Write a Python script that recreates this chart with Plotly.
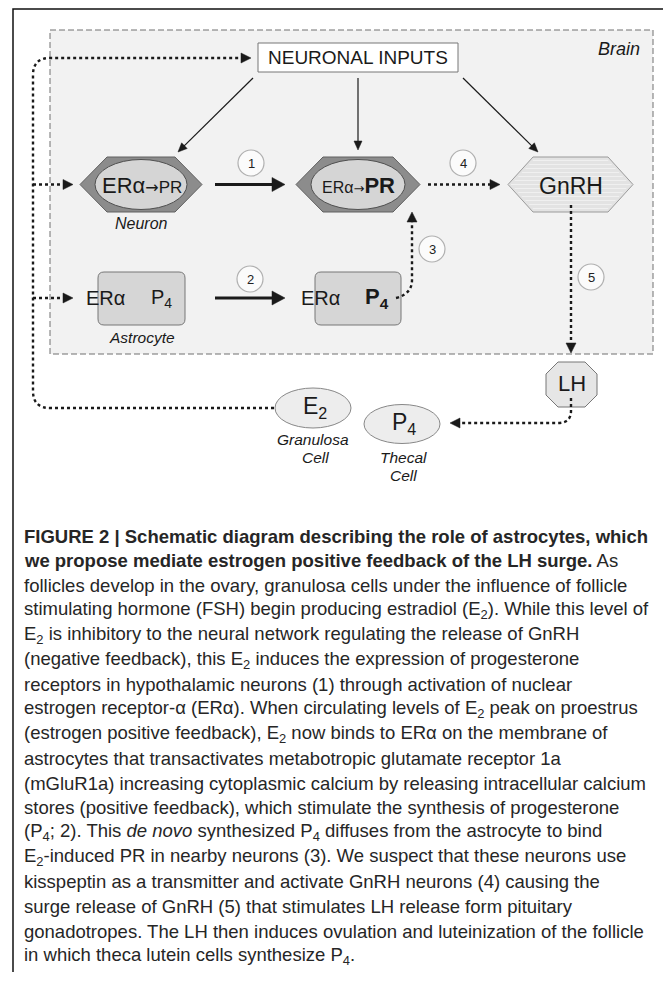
import math
import plotly.graph_objects as go

# ---------------- content (text / labels) ----------------
brain_label = "Brain"
inputs_label = "NEURONAL INPUTS"
neuron_label = "Neuron"
astro_label = "Astrocyte"
step_numbers = ["1", "2", "3", "4", "5"]
gnrh_label = "GnRH"
lh_label = "LH"
e2_label = "E<sub>2</sub>"
p4_label = "P<sub>4</sub>"
e2_cell = ["Granulosa", "Cell"]
p4_cell = ["Thecal", "Cell"]
neuron1_label = ('<span style="font-size:22px">ERα</span>'
                 '<span style="font-size:16px;font-family:DejaVu Sans">→</span>'
                 '<span style="font-size:17px">PR</span>')
neuron2_label = ('<span style="font-size:16px">ERα</span>'
                 '<span style="font-size:13px;font-family:DejaVu Sans">→</span>'
                 '<b style="font-size:22px">PR</b>')
astro1_labels = ["ERα", "P<sub>4</sub>"]
astro2_labels = ["ERα", "<b>P<sub>4</sub></b>"]

caption_lines = [
    "<b>FIGURE 2 | Schematic diagram describing the role of astrocytes, which</b>",
    "<b>we propose mediate estrogen positive feedback of the LH surge.</b> As",
    "follicles develop in the ovary, granulosa cells under the influence of follicle",
    "stimulating hormone (FSH) begin producing estradiol (E<sub>2</sub>). While this level of",
    "E<sub>2</sub> is inhibitory to the neural network regulating the release of GnRH",
    "(negative feedback), this E<sub>2</sub> induces the expression of progesterone",
    "receptors in hypothalamic neurons (1) through activation of nuclear",
    "estrogen receptor-α (ERα). When circulating levels of E<sub>2</sub> peak on proestrus",
    "(estrogen positive feedback), E<sub>2</sub> now binds to ERα on the membrane of",
    "astrocytes that transactivates metabotropic glutamate receptor 1a",
    "(mGluR1a) increasing cytoplasmic calcium by releasing intracellular calcium",
    "stores (positive feedback), which stimulate the synthesis of progesterone",
    "(P<sub>4</sub>; 2). This <i>de novo</i> synthesized P<sub>4</sub> diffuses from the astrocyte to bind",
    "E<sub>2</sub>-induced PR in nearby neurons (3). We suspect that these neurons use",
    "kisspeptin as a transmitter and activate GnRH neurons (4) causing the",
    "surge release of GnRH (5) that stimulates LH release form pituitary",
    "gonadotropes. The LH then induces ovulation and luteinization of the follicle",
    "in which theca lutein cells synthesize P<sub>4</sub>.",
]

# ---------------- geometry (page pixel space) ----------------
PAGE_W, PAGE_H = 671, 982
BODY = 8                      # default body margin of the html page
FIG_W, FIG_H = PAGE_W - BODY, 964
FONT = "Liberation Sans, Arial, Helvetica, sans-serif"
DARK = "#1a1a1a"
DOT = "3px,3px"

shapes = []
annots = []


def add_text(x, y, text, size=16, italic=False, color=DARK, xanchor="center", yanchor="middle"):
    if italic:
        text = "<i>" + text + "</i>"
    annots.append(dict(x=x, y=y, xref="x", yref="y", text=text, showarrow=False,
                       xanchor=xanchor, yanchor=yanchor,
                       font=dict(size=size, color=color, family=FONT)))


def poly(points, fill, line, lw=1.0):
    d = "M " + " L ".join(f"{px:.1f},{py:.1f}" for px, py in points) + " Z"
    shapes.append(dict(type="path", path=d, xref="x", yref="y", fillcolor=fill,
                       line=dict(color=line, width=lw), layer="above"))


def path(d, color=DARK, lw=2.2, dash=None):
    ln = dict(color=color, width=lw)
    if dash:
        ln["dash"] = dash
    shapes.append(dict(type="path", path=d, xref="x", yref="y", line=ln, layer="above"))


def head(tx, ty, dx, dy, length=9, half=4.5, color=DARK):
    n = math.hypot(dx, dy)
    ux, uy = dx / n, dy / n
    bx, by = tx - ux * length, ty - uy * length
    px, py = -uy, ux
    poly([(tx, ty), (bx + px * half, by + py * half), (bx - px * half, by - py * half)], color, color, 0.5)


def arrow(x0, y0, x1, y1, lw=1.2, length=9, half=4, dash=None):
    n = math.hypot(x1 - x0, y1 - y0)
    ux, uy = (x1 - x0) / n, (y1 - y0) / n
    ex, ey = x1 - ux * (length - 1), y1 - uy * (length - 1)
    path(f"M {x0},{y0} L {ex:.1f},{ey:.1f}", lw=lw, dash=dash)
    head(x1, y1, ux, uy, length, half)


def hexagon(cx, cy, hw, hh, inset, fill, line, lw=1.0):
    pts = [(cx - hw, cy), (cx - hw + inset, cy - hh), (cx + hw - inset, cy - hh),
           (cx + hw, cy), (cx + hw - inset, cy + hh), (cx - hw + inset, cy + hh)]
    poly(pts, fill, line, lw)


def ellipse(cx, cy, rx, ry, fill, line, lw=1.0):
    shapes.append(dict(type="circle", xref="x", yref="y", x0=cx - rx, x1=cx + rx, y0=cy - ry, y1=cy + ry,
                       fillcolor=fill, line=dict(color=line, width=lw), layer="above"))


def rrect(x0, y0, x1, y1, r, fill, line, lw=1.0):
    d = (f"M {x0 + r},{y0} L {x1 - r},{y0} Q {x1},{y0} {x1},{y0 + r} L {x1},{y1 - r} "
         f"Q {x1},{y1} {x1 - r},{y1} L {x0 + r},{y1} Q {x0},{y1} {x0},{y1 - r} L {x0},{y0 + r} "
         f"Q {x0},{y0} {x0 + r},{y0} Z")
    shapes.append(dict(type="path", path=d, xref="x", yref="y", fillcolor=fill,
                       line=dict(color=line, width=lw), layer="above"))


# outer frame
shapes.append(dict(type="rect", xref="x", yref="y", x0=13, y0=9, x1=665, y1=1010,
                   line=dict(color="#111", width=1.5), fillcolor="rgba(0,0,0,0)", layer="below"))
# brain dashed box
shapes.append(dict(type="rect", xref="x", yref="y", x0=50, y0=30, x1=653, y1=354,
                   line=dict(color="#707070", width=1, dash="6px,3px"), fillcolor="#f2f2f2", layer="below"))
add_text(642, 49, brain_label, size=18, italic=True, xanchor="right")

# neuronal inputs box
shapes.append(dict(type="rect", xref="x", yref="y", x0=258, y0=43, x1=458, y1=72,
                   line=dict(color="#777", width=1), fillcolor="white", layer="above"))
add_text(358, 57.5, inputs_label, size=19)

# arrows from inputs
arrow(253, 78, 178, 152)
arrow(358, 78, 358, 150)
arrow(463, 78, 538, 152)

# neuron hexagons
ROW1 = 184.5
hexagon(141, ROW1, 61, 27.5, 27, "#8c8c8c", "#606060", 1)
ellipse(141, ROW1, 46, 25, "#d5d5d5", "#505050", 1)
add_text(142, ROW1 + 1, neuron1_label, size=22)
add_text(141, 223, neuron_label, size=16, italic=True)

hexagon(358, ROW1, 62, 27.5, 27, "#8c8c8c", "#606060", 1)
ellipse(358, ROW1, 47, 25, "#d5d5d5", "#505050", 1)
add_text(358.5, ROW1 + 1, neuron2_label, size=22)

# GnRH hexagon with faint brick texture
GX = 570.5
hexagon(GX, ROW1, 62.5, 27.5, 25, "#e3e3e3", "#9a9a9a", 1)
for k in range(-6, 7):
    yy = ROW1 + k * 4
    half = 62.5 - 25 * abs(yy - ROW1) / 27.5 - 3
    path(f"M {GX - half:.1f},{yy} L {GX + half:.1f},{yy}", color="#f0f0f0", lw=1)
add_text(GX, ROW1 + 1, gnrh_label, size=23)

# step arrows (neuron row)
arrow(215, ROW1, 285, ROW1, lw=3.2, length=13, half=7)
arrow(428, ROW1, 500, ROW1, lw=2.4, length=10, half=5, dash=DOT)

# astrocytes
ROW2 = 298
rrect(98, 272, 185, 325, 6, "#d6d6d6", "#777", 1)
add_text(105, ROW2, astro1_labels[0], size=20)
add_text(161, ROW2, astro1_labels[1], size=20)
add_text(142, 337, astro_label, size=15.5, italic=True)
arrow(215, ROW2, 285, ROW2, lw=3.2, length=13, half=7)
rrect(315, 272, 401, 325, 6, "#d6d6d6", "#777", 1)
add_text(320, ROW2, astro2_labels[0], size=20)
add_text(377, ROW2, astro2_labels[1], size=22)

# step circles
circle_pos = [(251, 163), (250, 279), (432, 249), (463, 163), (591, 277)]
for (cx, cy), lab in zip(circle_pos, step_numbers):
    ellipse(cx, cy, 13, 13, "#fbfbfb", "#b0b0b0", 1.2)
    add_text(cx, cy, lab, size=13, color="#222")

# dotted feedback loop from E2
path("M 292,408 L 50,408 Q 33,408 33,391 L 33,75 Q 33,58 50,58 L 242,58", lw=2.4, dash=DOT)
head(251, 58, 1, 0, 10, 5)
arrow(33, ROW1, 73, ROW1, lw=2.4, length=10, half=5, dash=DOT)
arrow(33, ROW2, 73, ROW2, lw=2.4, length=10, half=5, dash=DOT)

# dotted P4 -> PR (3)
path("M 396,298 Q 412,294 412,280 L 412,222", lw=2.4, dash=DOT)
head(412, 212, 0, -1, 10, 5)

# dotted GnRH -> LH (5)
path("M 571,205 L 571,343", lw=2.4, dash=DOT)
head(571, 353, 0, 1, 10, 5)

# LH octagon
cx, cy, a, b, c = 571.5, 384.5, 25.5, 22.5, 12
poly([(cx - a + c, cy - b), (cx + a - c, cy - b), (cx + a, cy - b + c), (cx + a, cy + b - c),
      (cx + a - c, cy + b), (cx - a + c, cy + b), (cx - a, cy + b - c), (cx - a, cy - b + c)],
     "#e6e6e6", "#777", 1)
add_text(cx, cy - 1, lh_label, size=22)

# dotted LH -> P4
path("M 571,398 L 571,411 Q 571,423 558,423 L 459,423", lw=2.4, dash=DOT)
head(450, 423, -1, 0, 10, 5)

# ovarian cells
ellipse(313, 408, 38, 20, "#ededed", "#888", 1)
add_text(315, 407, e2_label, size=23)
add_text(313, 439, e2_cell[0], size=15.5, italic=True)
add_text(315, 457, e2_cell[1], size=15.5, italic=True)

ellipse(402, 424, 38, 19.5, "#ededed", "#888", 1)
add_text(404, 423, p4_label, size=23)
add_text(403, 457, p4_cell[0], size=15.5, italic=True)
add_text(403, 475, p4_cell[1], size=15.5, italic=True)

# caption
CAP_TOP, CAP_STEP = 536, 24.7
for i, line in enumerate(caption_lines):
    add_text(22, CAP_TOP + CAP_STEP * i, line, size=18.5, xanchor="left", color="#262626")

fig = go.Figure(go.Scatter(x=[], y=[], showlegend=False))
fig.update_layout(
    width=FIG_W, height=FIG_H, margin=dict(l=0, r=0, t=0, b=0),
    paper_bgcolor="white", plot_bgcolor="white",
    xaxis=dict(range=[BODY, BODY + FIG_W], visible=False, fixedrange=True),
    yaxis=dict(range=[BODY + FIG_H, BODY], visible=False, fixedrange=True),
    shapes=shapes, annotations=annots, showlegend=False,
)
fig.write_html("out.html")
